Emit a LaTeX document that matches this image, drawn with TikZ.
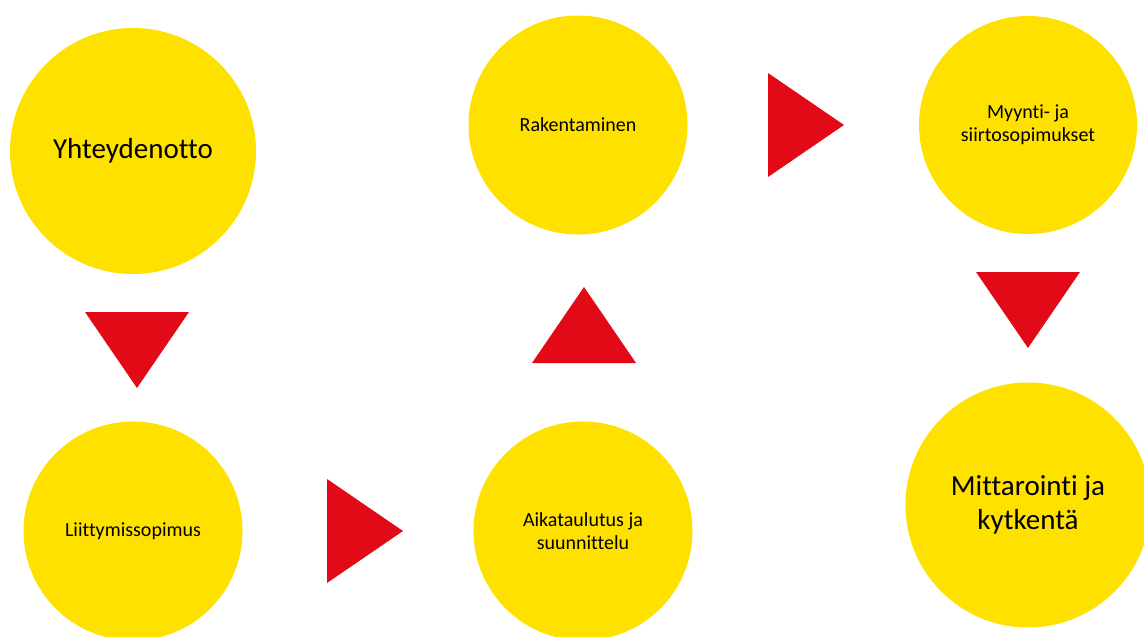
\documentclass[tikz,border=0pt]{standalone}
\usepackage{fontspec}
\setmainfont{Carlito}[Ligatures=NoCommon]
\usetikzlibrary{shapes.geometric}
\definecolor{phaseyellow}{HTML}{FFE100}
\definecolor{pointerred}{HTML}{E20A17}

\begin{document}
\begin{tikzpicture}[x=1pt,y=-1pt,
    phase/.style={circle,fill=phaseyellow,inner sep=0pt,align=center,
                  font=\fontsize{20}{23}\selectfont},
    big phase/.style={phase,font=\fontsize{29}{34}\selectfont},
    pointer/.style={isosceles triangle,isosceles triangle stretches,fill=pointerred,
                    inner sep=0pt,outer sep=0pt,anchor=apex,
                    minimum width=104pt,minimum height=76pt},
    down/.style={pointer,shape border rotate=-90},
    up/.style={pointer,shape border rotate=90},
    right/.style={pointer,shape border rotate=0}]
  \useasboundingbox (0,0) rectangle (1144,637);

  \node[big phase, minimum size=246pt] (yht) at (133,151) {Yhteydenotto};
  \node[phase, minimum size=219pt] (lii) at (133,531) {Liittymissopimus};
  \node[phase, minimum size=219pt] (aik) at (583,531) {Aikataulutus ja\\suunnittelu};
  \node[phase, minimum size=219pt] (rak) at (578,125) {Rakentaminen};
  \node[phase, minimum size=218pt] (myy) at (1028,125) {Myynti- ja\\siirtosopimukset};
  \node[big phase, minimum size=245pt] (mit) at (1028,505) {Mittarointi ja\\kytkentä};

  % pointers between the phases
  \node[down] (p1) at (137,388) {};
  \node[right] (p2) at (403,531) {};
  \node[up] (p3) at (584,287) {};
  \node[right] (p4) at (844,125) {};
  \node[down] (p5) at (1028,348) {};
\end{tikzpicture}
\end{document}
